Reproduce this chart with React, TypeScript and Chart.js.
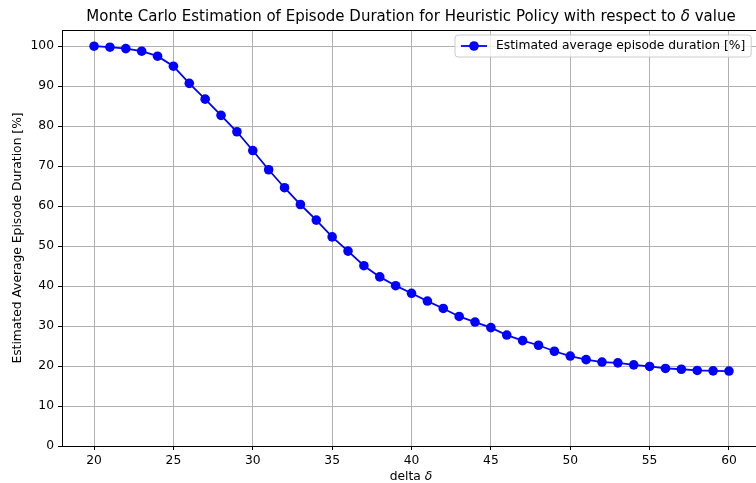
import React, { useEffect, useRef } from "react";
import { Chart, registerables } from "chart.js";

Chart.register(...registerables);

const deltaValues = [20, 21, 22, 23, 24, 25, 26, 27, 28, 29, 30, 31, 32, 33, 34, 35, 36, 37, 38, 39, 40, 41, 42, 43, 44, 45, 46, 47, 48, 49, 50, 51, 52, 53, 54, 55, 56, 57, 58, 59, 60];
const durationValues = [100, 99.75, 99.4, 98.75, 97.5, 95, 90.7, 86.75, 82.7, 78.6, 73.9, 69.1, 64.6, 60.4, 56.5, 52.3, 48.75, 45.1, 42.3, 40.1, 38.2, 36.25, 34.4, 32.4, 31, 29.6, 27.75, 26.35, 25.2, 23.7, 22.5, 21.6, 21, 20.8, 20.3, 19.9, 19.4, 19.2, 18.9, 18.8, 18.75];
const xTicks = [20, 25, 30, 35, 40, 45, 50, 55, 60];
const yTicks = [0, 10, 20, 30, 40, 50, 60, 70, 80, 90, 100];

const titleText = "Monte Carlo Estimation of Episode Duration for Heuristic Policy with respect to ";
const titleTail = " value";
const xLabelText = "delta ";
const yLabelText = "Estimated Average Episode Duration [%]";
const legendText = "Estimated average episode duration [%]";

const FONT = "'DejaVu Sans', sans-serif";
const BLUE = "#0000ff";
const SMALL = 12.3;

function drawMixed(ctx: CanvasRenderingContext2D, parts: { t: string; italic?: boolean }[], size: number, cx: number, cy: number) {
  let total = 0;
  const widths = parts.map((p) => {
    ctx.font = `${p.italic ? "italic " : ""}${size}px ${FONT}`;
    const w = ctx.measureText(p.t).width;
    total += w;
    return w;
  });
  let x = cx - total / 2;
  ctx.textAlign = "left";
  ctx.textBaseline = "middle";
  parts.forEach((p, i) => {
    ctx.font = `${p.italic ? "italic " : ""}${size}px ${FONT}`;
    ctx.fillText(p.t, x, cy);
    x += widths[i];
  });
}

const decorPlugin = {
  id: "decor",
  beforeDatasetsDraw(chart: any) {
    const ctx: CanvasRenderingContext2D = chart.ctx;
    const { right, bottom } = chart.chartArea;
    const ys = chart.scales.y;
    ctx.save();
    ctx.strokeStyle = "#b0b0b0";
    ctx.lineWidth = 1;
    yTicks.forEach((v) => {
      if (v === 0) return;
      const py = Math.round(ys.getPixelForValue(v)) + 0.5;
      ctx.beginPath();
      ctx.moveTo(right, py);
      ctx.lineTo(chart.width, py);
      ctx.stroke();
    });
    ctx.strokeStyle = "#000";
    ctx.beginPath();
    ctx.moveTo(right - 1, Math.round(bottom) + 0.5);
    ctx.lineTo(chart.width, Math.round(bottom) + 0.5);
    ctx.stroke();
    ctx.restore();
  },
  afterDraw(chart: any) {
    const ctx: CanvasRenderingContext2D = chart.ctx;
    const { left, top, bottom } = chart.chartArea;
    ctx.save();
    ctx.strokeStyle = "#000";
    ctx.lineWidth = 1;
    ctx.beginPath();
    ctx.moveTo(left, top + 0.5);
    ctx.lineTo(chart.width, top + 0.5);
    ctx.stroke();

    ctx.fillStyle = "#000";
    const axesCenter = (left + 760) / 2;
    drawMixed(ctx, [{ t: titleText }, { t: "δ", italic: true }, { t: titleTail }], 15, axesCenter, 17);
    drawMixed(ctx, [{ t: xLabelText }, { t: "δ", italic: true }], SMALL, axesCenter, 477);

    ctx.save();
    ctx.translate(18, (top + bottom) / 2);
    ctx.rotate(-Math.PI / 2);
    ctx.font = `${SMALL}px ${FONT}`;
    ctx.textAlign = "center";
    ctx.textBaseline = "middle";
    ctx.fillText(yLabelText, 0, 0);
    ctx.restore();

    ctx.font = `${SMALL}px ${FONT}`;
    const tw = ctx.measureText(legendText).width;
    const bx = 455, by = 35, bh = 22;
    const bw = 41 + tw + 6;
    const r = 3;
    ctx.beginPath();
    ctx.moveTo(bx + r, by);
    ctx.lineTo(bx + bw - r, by);
    ctx.quadraticCurveTo(bx + bw, by, bx + bw, by + r);
    ctx.lineTo(bx + bw, by + bh - r);
    ctx.quadraticCurveTo(bx + bw, by + bh, bx + bw - r, by + bh);
    ctx.lineTo(bx + r, by + bh);
    ctx.quadraticCurveTo(bx, by + bh, bx, by + bh - r);
    ctx.lineTo(bx, by + r);
    ctx.quadraticCurveTo(bx, by, bx + r, by);
    ctx.closePath();
    ctx.fillStyle = "rgba(255,255,255,0.8)";
    ctx.fill();
    ctx.strokeStyle = "#cccccc";
    ctx.lineWidth = 1;
    ctx.stroke();
    const ly = by + bh / 2;
    ctx.strokeStyle = BLUE;
    ctx.lineWidth = 1.8;
    ctx.beginPath();
    ctx.moveTo(bx + 6, ly);
    ctx.lineTo(bx + 32, ly);
    ctx.stroke();
    ctx.fillStyle = BLUE;
    ctx.beginPath();
    ctx.arc(bx + 19, ly, 4.8, 0, Math.PI * 2);
    ctx.fill();
    ctx.fillStyle = "#000";
    ctx.textAlign = "left";
    ctx.textBaseline = "middle";
    ctx.fillText(legendText, bx + 41, ly);
    ctx.restore();
  },
};

export default function App() {
  const ref = useRef<HTMLCanvasElement>(null);
  useEffect(() => {
    document.body.style.margin = "0";
    const canvas = ref.current!;
    const chart = new Chart(canvas, {
      type: "line",
      data: {
        datasets: [
          {
            label: legendText,
            data: deltaValues.map((x, i) => ({ x, y: durationValues[i] })),
            borderColor: BLUE,
            backgroundColor: BLUE,
            borderWidth: 1.8,
            pointRadius: 4.8,
            pointHoverRadius: 4.8,
            pointBorderWidth: 0,
            pointBackgroundColor: BLUE,
            tension: 0,
            fill: false,
          },
        ],
      },
      options: {
        responsive: false,
        animation: false,
        events: [],
        layout: { padding: { top: 30, right: 1, left: 0, bottom: 0 } },
        plugins: { legend: { display: false }, title: { display: false }, tooltip: { enabled: false } },
        scales: {
          x: {
            type: "linear",
            min: 17.98,
            max: 61.4,
            afterBuildTicks: (axis: any) => {
              axis.ticks = xTicks.map((v) => ({ value: v }));
            },
            afterFit: (scale: any) => {
              scale.height = 37;
            },
            grid: { color: "#b0b0b0", lineWidth: 1, tickLength: 4, tickColor: "#000", drawTicks: true },
            border: { display: true, color: "#000", width: 1 },
            ticks: { color: "#000", font: { family: FONT, size: SMALL }, padding: 3, maxRotation: 0, autoSkip: false },
          },
          y: {
            type: "linear",
            min: 0,
            max: 104.05,
            afterBuildTicks: (axis: any) => {
              axis.ticks = yTicks.map((v) => ({ value: v }));
            },
            afterFit: (scale: any) => {
              scale.width = 62;
            },
            grid: { color: "#b0b0b0", lineWidth: 1, tickLength: 4, tickColor: "#000", drawTicks: true },
            border: { display: true, color: "#000", width: 1 },
            ticks: { color: "#000", font: { family: FONT, size: SMALL }, padding: 4, autoSkip: false },
          },
        },
      },
      plugins: [decorPlugin],
    } as any);
    return () => chart.destroy();
  }, []);
  return (
    <div style={{ position: "absolute", left: 0, top: 0, width: 756, height: 483, background: "#fff" }}>
      <canvas ref={ref} width={756} height={483} style={{ width: 756, height: 483, display: "block" }} />
    </div>
  );
}
